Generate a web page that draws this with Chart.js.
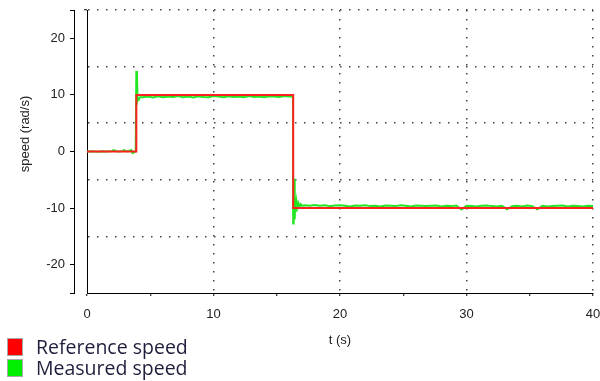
<!DOCTYPE html>
<html>
<head>
<meta charset="utf-8">
<script src="https://cdn.jsdelivr.net/npm/chart.js@4/dist/chart.umd.min.js"></script>
<style>
    body { margin: 0; background: #fff; }
    .wrap { position: relative; width: 600px; height: 381px; }
    .legend { position: absolute; left: 7px; top: 336px; font-family: "Open Sans", sans-serif; font-size: 19.5px; color: #1e1e3c; }
    .legend-row { display: flex; align-items: center; height: 21px; }
    .legend-box { width: 14px; height: 16px; border: 1px solid #aaa; margin-right: 13px; }
</style>
</head>
<body>
<div class="wrap">
    <canvas id="speedChart" width="600" height="381"></canvas>
    <div class="legend" id="legend"></div>
</div>
<script>
/* ============================
   Speed step response chart
   ============================ */

// reference speed, stepped
const refTime = [0, 3.9, 16.3, 40];
const refSpeed = [0, 10, -10, -10];

// measured speed
const measuredTime = [
    0, 0.4, 0.8, 1.2, 1.6, 2.0, 2.1, 2.4, 2.8, 2.9, 3.2, 3.5, 3.6, 3.85,
    3.9, 3.95, 4.0, 4.05, 4.1, 4.2,
    4.4, 4.8, 5.2, 5.6, 6.0, 6.4, 6.8, 7.2, 7.6, 8.0, 8.4, 8.8, 9.2, 9.6, 10.0,
    10.4, 10.8, 11.2, 11.6, 12.0, 12.4, 12.8, 13.2, 13.6, 14.0, 14.4, 14.8, 15.2, 15.6, 16.0,
    16.28, 16.3, 16.34, 16.38, 16.42, 16.46, 16.5, 16.56, 16.62, 16.7, 16.8, 16.9, 17.0,
    17.2, 17.6, 18.0, 18.4, 18.8, 19.2, 19.6, 20.0, 20.4, 20.8, 21.2, 21.6, 22.0, 22.4, 22.8,
    23.2, 23.6, 24.0, 24.4, 24.8, 25.2, 25.6, 26.0, 26.4, 26.8, 27.2, 27.6, 28.0, 28.4, 28.8,
    29.2, 29.6, 30.0, 30.4, 30.8, 31.2, 31.6, 32.0, 32.4, 32.8, 33.2, 33.6, 34.0, 34.4, 34.8,
    35.2, 35.6, 36.0, 36.4, 36.8, 37.2, 37.6, 38.0, 38.4, 38.8, 39.2, 39.6, 40.0
];
const measuredSpeed = [
    0, 0.05, -0.05, 0.05, 0, 0.1, 0.25, 0, 0.05, 0.25, 0, 0.25, -0.3, 0,
    14.2, 13.5, 9.0, 9.4, 9.3, 9.6,
    9.6, 9.7, 9.55, 9.75, 9.6, 9.7, 9.65, 9.8, 9.6, 9.7, 9.55, 9.75, 9.65, 9.6, 9.8,
    9.7, 9.6, 9.75, 9.65, 9.7, 9.6, 9.8, 9.65, 9.7, 9.6, 9.75, 9.7, 9.65, 9.8, 9.7,
    9.7, -12.7, -8.5, -4.8, -12.0, -8.7, -10.6, -8.9, -9.9, -9.1, -9.7, -9.3, -9.6,
    -9.5, -9.6, -9.45, -9.6, -9.5, -9.65, -9.55, -9.5, -9.6, -9.7, -9.55, -9.6, -9.5, -9.65, -9.6,
    -9.7, -9.55, -9.6, -9.65, -9.5, -9.6, -9.7, -9.55, -9.6, -9.65, -9.6, -9.55, -9.7, -9.6, -9.65,
    -9.55, -10.25, -9.6, -9.65, -9.7, -9.6, -9.55, -9.65, -9.7, -9.6, -10.2, -9.65, -9.6, -9.7, -9.55,
    -9.65, -10.2, -9.6, -9.7, -9.65, -9.6, -9.55, -9.7, -9.6, -9.65, -9.7, -9.6, -9.65
];

const xTicks = [0, 10, 20, 30, 40];
const yTicks = [-20, -10, 0, 10, 20];

const FONT = { family: '"Liberation Sans", Arial, sans-serif', size: 13 };
const TEXT = '#222';
const DOTS = '#444';
const NONE = 'rgba(0,0,0,0)';

const toPoints = (xs, ys) => xs.map((x, i) => ({ x, y: ys[i] }));

// no label overflow padding, the plot box is fixed
function noPad(s) {
    s.paddingLeft = s.paddingRight = s.paddingTop = s.paddingBottom = 0;
}

// y title sits a little above the middle in the original
const yTitle = {
    id: 'yTitle',
    afterDraw(chart) {
        const ctx = chart.ctx;
        ctx.save();
        ctx.translate(25, 134);
        ctx.rotate(-Math.PI / 2);
        ctx.font = `${FONT.size}px ${FONT.family}`;
        ctx.fillStyle = TEXT;
        ctx.textAlign = 'center';
        ctx.textBaseline = 'middle';
        ctx.fillText('speed (rad/s)', 0, 0);
        ctx.restore();
    }
};

const chart = new Chart(document.getElementById('speedChart'), {
    type: 'line',
    data: {
        datasets: [{
            label: 'Reference speed',
            data: toPoints(refTime, refSpeed),
            stepped: 'before',
            borderColor: '#ff2020',
            backgroundColor: '#ff0000',
            borderWidth: 2,
            pointRadius: 0,
            yAxisID: 'y'
        }, {
            label: 'Measured speed',
            data: toPoints(measuredTime, measuredSpeed),
            borderColor: '#22e622',
            backgroundColor: '#00ee00',
            borderWidth: 2,
            pointRadius: 0,
            tension: 0,
            yAxisID: 'y'
        }]
    },
    options: {
        responsive: false,
        animation: false,
        layout: { padding: { left: 0, right: 7, top: 10, bottom: 0 } },
        plugins: { legend: { display: false }, tooltip: { enabled: false } },
        scales: {
            x: {
                type: 'linear',
                min: 0,
                max: 40,
                afterFit: s => { s.height = 88; noPad(s); },
                ticks: {
                    stepSize: 5,
                    autoSkip: false,
                    maxRotation: 0,
                    padding: 11,
                    color: TEXT,
                    font: FONT,
                    callback: v => xTicks.includes(v) ? v : ''
                },
                grid: {
                    color: c => (c.tick && c.tick.value % 10 === 0 && c.tick.value > 0) ? DOTS : NONE,
                    lineWidth: 1.5,
                    tickColor: '#000',
                    tickWidth: 1,
                    tickLength: 3,
                    tickBorderDash: []
                },
                border: { display: true, color: '#000', width: 1, dash: [1.5, 7.5] },
                title: {
                    display: true,
                    text: 't (s)',
                    color: TEXT,
                    font: FONT,
                    padding: { top: 0, bottom: 33 }
                }
            },
            y: {
                min: -25,
                max: 25,
                weight: 0,
                afterFit: s => { s.width = 13; noPad(s); },
                ticks: { stepSize: 5, autoSkip: false, display: false },
                grid: {
                    color: c => (c.tick && c.tick.value % 10 !== 0 && c.tick.value !== -25) ? DOTS : NONE,
                    lineWidth: 1.5,
                    tickColor: c => (c.tick && c.tick.value === 25) ? '#000' : NONE,
                    tickWidth: 1,
                    tickLength: 3,
                    tickBorderDash: []
                },
                border: { display: true, color: '#000', width: 1, dash: [1.5, 7.5] }
            },
            y2: {
                type: 'linear',
                position: 'left',
                min: -25,
                max: 25,
                weight: 1,
                afterFit: s => { s.width = 74; noPad(s); },
                ticks: {
                    stepSize: 5,
                    autoSkip: false,
                    padding: 5,
                    color: TEXT,
                    font: FONT,
                    callback: v => yTicks.includes(v) ? v : ''
                },
                grid: {
                    drawOnChartArea: false,
                    tickColor: c => (c.tick && (c.tick.value % 10 === 0 || Math.abs(c.tick.value) === 25)) ? '#000' : NONE,
                    tickLength: 4
                },
                border: { display: true, color: '#000', width: 1 }
            }
        }
    },
    plugins: [yTitle]
});

// legend, bottom left
document.getElementById('legend').innerHTML = chart.data.datasets.map(ds => `
    <div class="legend-row">
        <span class="legend-box" style="background:${ds.backgroundColor}"></span>
        <span>${ds.label}</span>
    </div>`).join('');
</script>
</body>
</html>
